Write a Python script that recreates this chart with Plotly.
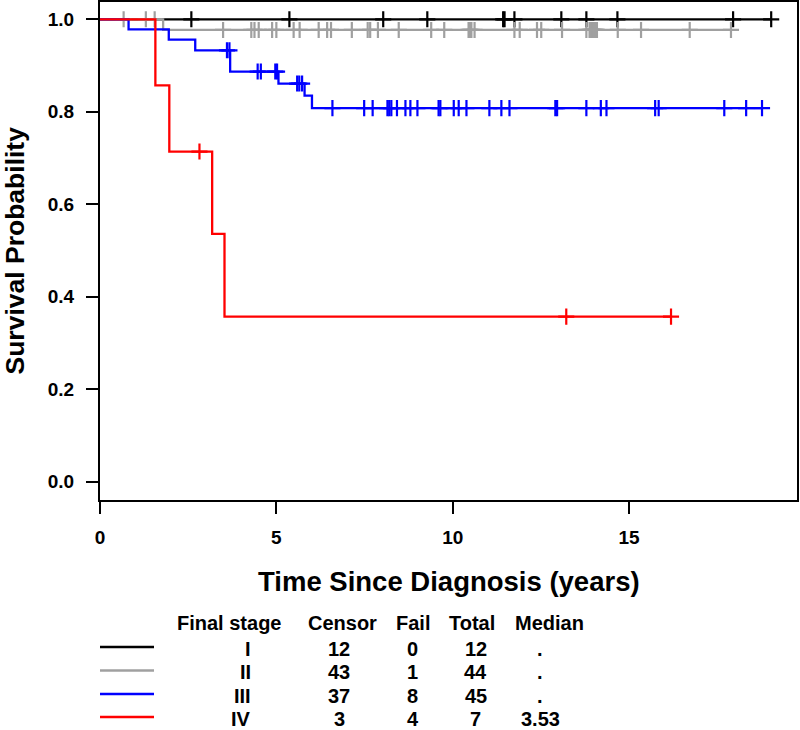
import numpy as np
import plotly.graph_objects as go

# ---------------- data ----------------
stages = ["I", "II", "III", "IV"]
colors = ["#000000", "#a0a0a0", "#0000ff", "#ff0000"]

# step times (years) and survival after each step; curve end time
steps_I_t = [0.0]
steps_I_s = [1.0]
end_I = 19.03
cens_I = [2.59, 5.37, 8.03, 9.28, 11.43, 11.47, 11.75, 13.08, 13.79, 14.67, 17.95, 19.03]

steps_II_t = [0.0, 1.79]
steps_II_s = [1.0, 0.977]
end_II = 17.89
cens_II = [0.67, 1.30, 1.55,
           3.49, 4.29, 4.38, 4.50, 4.88, 5.00, 5.49, 5.66, 6.20, 6.44, 6.55,
           7.14, 7.59, 7.66, 7.88, 8.47, 9.39, 9.76, 10.45, 10.49, 10.53, 10.62,
           11.75, 11.90, 12.39, 12.51, 13.10,
           13.79, 13.88, 13.91, 13.94, 13.97, 14.00, 14.03, 14.06, 14.09,
           14.68, 15.34, 16.72, 17.89]

steps_III_t = [0.0, 0.81, 1.95, 2.70, 3.69, 5.06, 5.80, 6.01]
steps_III_s = [1.0, 0.978, 0.956, 0.933, 0.887, 0.861, 0.835, 0.808]
end_III = 18.77
cens_III = [3.60, 3.67,
            4.47, 4.56, 4.97, 5.02,
            5.59, 5.65, 5.73,
            6.59, 7.49, 7.73, 8.15, 8.20, 8.26, 8.42, 8.66, 8.80, 9.00, 9.60, 9.65,
            10.03, 10.17, 10.39, 11.04, 11.38, 11.61, 12.91, 12.96, 13.79, 14.20,
            14.36, 15.74, 15.84, 17.70, 18.32, 18.77]

steps_IV_t = [0.0, 1.57, 1.965, 3.18, 3.53]
steps_IV_s = [1.0, 0.857, 0.714, 0.536, 0.357]
end_IV = 16.19
cens_IV = [2.82, 13.22, 16.19]

# summary table
tbl_censor = [12, 43, 37, 3]
tbl_fail = [0, 1, 8, 4]
tbl_total = [12, 44, 45, 7]
tbl_median = [".", ".", ".", "3.53"]

x_ticks = [0, 5, 10, 15]
y_ticks = [0.0, 0.2, 0.4, 0.6, 0.8, 1.0]

# ---------------- figure ----------------
W, H = 800, 730
L, R, T, B = 100, 3, 2, 230
PW, PH = W - L - R, H - T - B

FONT = "Liberation Sans, Arial, Helvetica, sans-serif"

fig = go.Figure()

groups = [
    (steps_I_t, steps_I_s, end_I, cens_I),
    (steps_II_t, steps_II_s, end_II, cens_II),
    (steps_III_t, steps_III_s, end_III, cens_III),
    (steps_IV_t, steps_IV_s, end_IV, cens_IV),
]

for (st, ss, end, cens), col, name in zip(groups, colors, stages):
    xs = list(st) + [end]
    ys = list(ss) + [ss[-1]]
    fig.add_trace(go.Scatter(x=xs, y=ys, mode="lines", line=dict(color=col, width=2.3, shape="hv"),
                             name=name, showlegend=False, hoverinfo="skip"))
    idx = np.searchsorted(np.array(st), np.array(cens), side="right") - 1
    cy = [ss[i] for i in idx]
    fig.add_trace(go.Scatter(x=cens, y=cy, mode="markers",
                             marker=dict(symbol="cross-thin", size=11.5,
                                         line=dict(color=col, width=2.2)),
                             showlegend=False, hoverinfo="skip"))

axis_common = dict(showline=True, linecolor="black", linewidth=2, mirror=True,
                   ticks="outside", ticklen=12, tickwidth=1.6, tickcolor="black",
                   showgrid=False, zeroline=False,
                   tickfont=dict(family=FONT, size=19, color="black", weight="bold"))

fig.update_xaxes(range=[0, PW / 35.27], tickvals=x_ticks, ticktext=[str(v) for v in x_ticks],
                 ticklabelstandoff=7, **axis_common)
fig.update_yaxes(range=[-(500 - 481.7) / 462.4, 1 + (19.3 - T) / 462.4], tickvals=y_ticks,
                 ticktext=[f"{v:.1f}" for v in y_ticks], ticklabelstandoff=8, **axis_common)


def px2paper(px, py):
    return (px - L) / PW, (H - B - py) / PH


annotations = []


def add_text(text, px, py, size, xanchor="center", angle=0):
    xp, yp = px2paper(px, py)
    annotations.append(dict(text=text, x=xp, y=yp, xref="paper", yref="paper",
                            xanchor=xanchor, yanchor="middle", showarrow=False, textangle=angle,
                            borderpad=0,
                            font=dict(family=FONT, size=size, color="black", weight="bold")))


add_text("Time Since Diagnosis (years)", 449, 581, 27.5)
add_text("Survival Probability", 14.5, 251, 26.5, angle=-90)

# table header
hdr_y = 622.5
add_text("Final stage", 229.3, hdr_y, 20)
add_text("Censor", 342, hdr_y, 20)
add_text("Fail", 413.3, hdr_y, 20)
add_text("Total", 472, hdr_y, 20)
add_text("Median", 549.7, hdr_y, 20)

row_y = [648.5, 672, 695.5, 718.5]
shapes = []
for i in range(4):
    add_text(stages[i], 252, row_y[i], 20, xanchor="right")
    add_text(str(tbl_censor[i]), 339, row_y[i], 20)
    add_text(str(tbl_fail[i]), 412.5, row_y[i], 20)
    add_text(str(tbl_total[i]), 475.5, row_y[i], 20)
    add_text(tbl_median[i], 540, row_y[i], 20)
    x0, y0 = px2paper(100, row_y[i] - 1.5)
    x1, _ = px2paper(154, row_y[i] - 1.5)
    shapes.append(dict(type="line", xref="paper", yref="paper", x0=x0, x1=x1, y0=y0, y1=y0,
                       line=dict(color=colors[i], width=2.5)))

fig.update_layout(width=W, height=H, margin=dict(l=L, r=R, t=T, b=B, autoexpand=False),
                  plot_bgcolor="white", paper_bgcolor="white",
                  annotations=annotations, shapes=shapes, showlegend=False)

fig.write_html("out.html", config={"displayModeBar": False},
               post_script="document.body.style.margin='0';document.body.style.overflow='hidden';")
